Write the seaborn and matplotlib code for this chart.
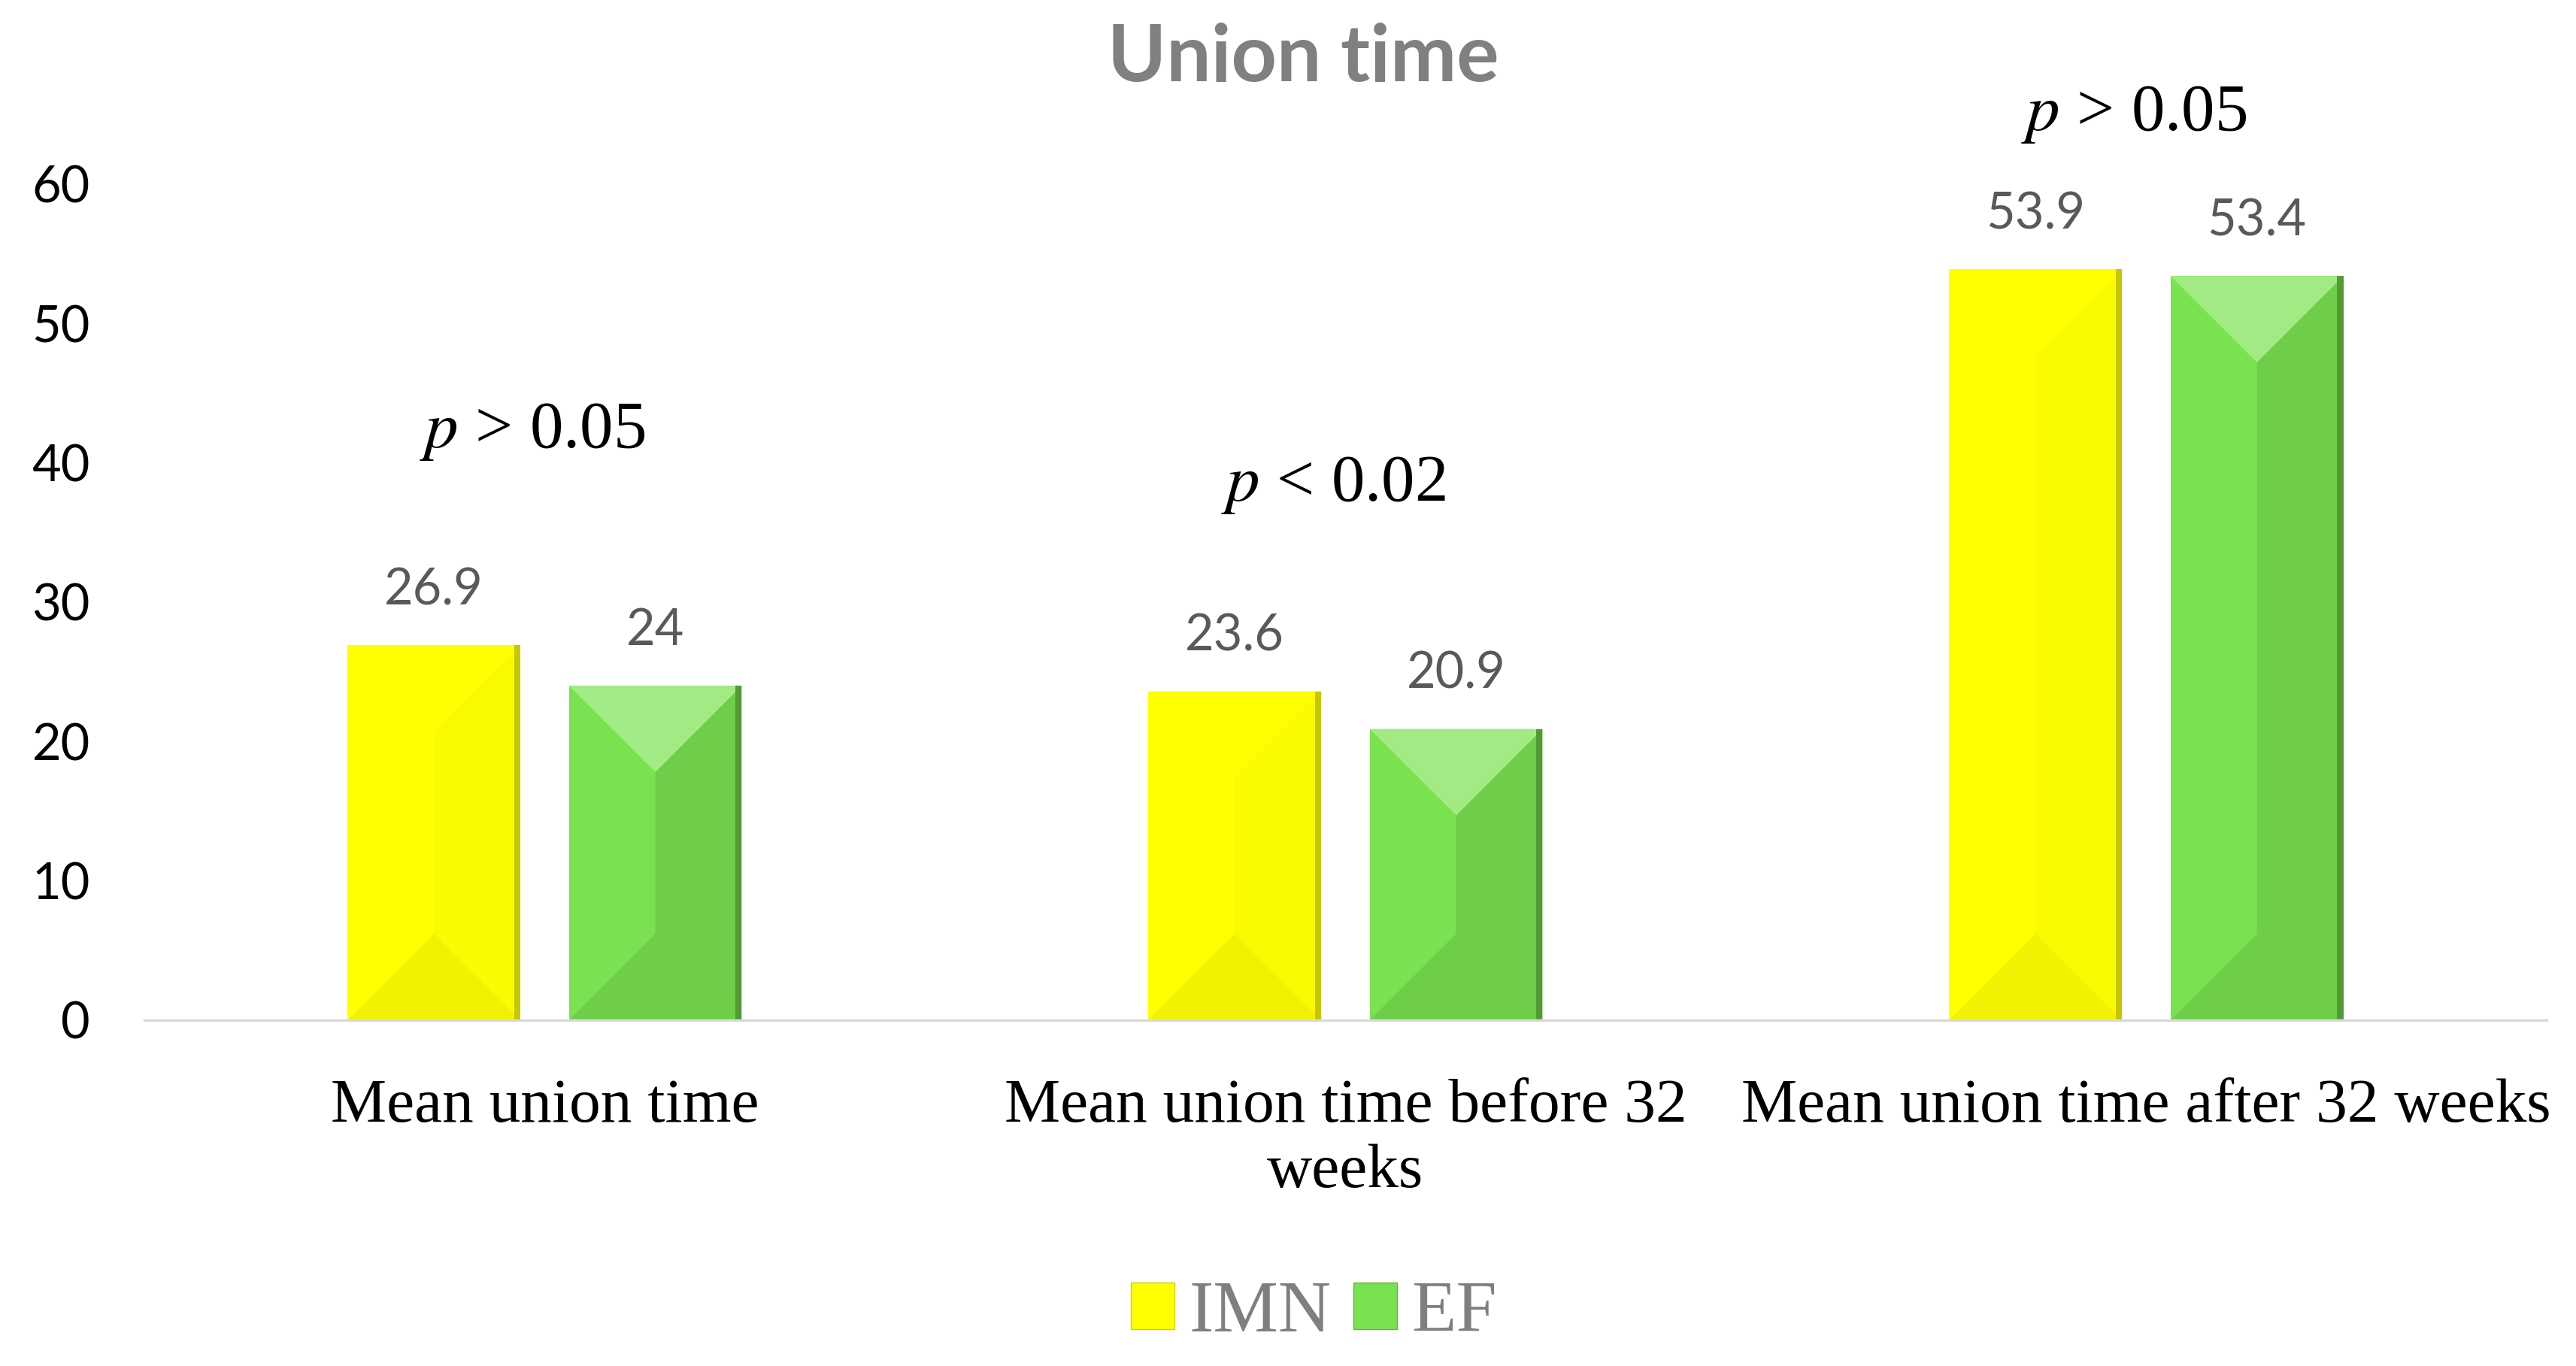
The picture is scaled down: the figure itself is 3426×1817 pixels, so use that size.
import matplotlib
matplotlib.use("Agg")
import matplotlib.pyplot as plt
import matplotlib.colors as mcolors
from matplotlib.patches import Patch, Polygon
import numpy as np
import pandas as pd
import seaborn as sns

# values
categories = ["Mean union time", "Mean union time before 32\nweeks", "Mean union time after 32 weeks"]
groups = ["IMN", "EF"]
imn_values = [26.9, 23.6, 53.9]
ef_values = [24.0, 20.9, 53.4]
p_labels = [r"$p$ > 0.05", r"$p$ < 0.02", r"$p$ > 0.05"]
p_heights = [42.2, 38.4, 65.0]
y_ticks = [0, 10, 20, 30, 40, 50, 60]

df = pd.DataFrame({
    "category": categories * 2,
    "group": [groups[0]] * len(categories) + [groups[1]] * len(categories),
    "value": imn_values + ef_values,
})

sns.set_theme(style="white")
plt.rcParams["mathtext.fontset"] = "stix"

colors = {"IMN": "#FFFF00", "EF": "#7AE250"}
# bevel shading: top mixes with white, the rest with black
bevel = {
    "IMN": dict(top=0.0, right=0.02, bottom=0.05, edge=0.22),
    "EF": dict(top=0.30, right=0.09, bottom=0.09, edge=0.32),
}

fig = plt.figure(figsize=(34.26, 18.17), dpi=100)
ax = fig.add_axes([0.056, 0.2532, 0.9326, 0.612])

sns.barplot(df, x="category", y="value", hue="group", hue_order=groups,
            order=categories, palette=colors, saturation=1, width=0.553, gap=0.22,
            linewidth=0, errorbar=None, legend=False, ax=ax)

ax.set_xlim(-0.5, 2.5)
ax.set_ylim(0, 60)
ax.set_yticks(y_ticks)
ax.set_xlabel("")
ax.set_ylabel("")
ax.spines[["top", "left", "right"]].set_visible(False)
ax.spines["bottom"].set_color("#D9D9D9")
ax.spines["bottom"].set_linewidth(2.5)
ax.tick_params(axis="both", length=0)
ax.tick_params(axis="y", pad=52, labelsize=48, labelcolor="black")
ax.tick_params(axis="x", pad=56, labelsize=60, labelcolor="black")
for t in ax.get_yticklabels():
    t.set_family("Lato")
for t in ax.get_xticklabels():
    t.set_family("Liberation Serif")


def mix(c, other, t):
    c = np.array(mcolors.to_rgb(c))
    o = np.array(mcolors.to_rgb(other))
    return tuple(c * (1 - t) + o * t)


to_px = ax.transData
to_data = ax.transData.inverted()
for name, container in zip(groups, ax.containers):
    base = colors[name]
    b = bevel[name]
    for bar in container:
        x0, y0 = bar.get_x(), bar.get_y()
        x1, y1 = x0 + bar.get_width(), y0 + bar.get_height()
        (px0, py0), (px1, py1) = to_px.transform([(x0, y0), (x1, y1)])
        half = (px1 - px0) / 2
        cx = (px0 + px1) / 2
        strip = (px1 - px0) * 0.035
        shapes = [
            ([(cx, py0 + half), (px1, py0), (px1, py1), (cx, py1 - half)], mix(base, "black", b["right"])),
            ([(px0, py1), (px1, py1), (cx, py1 - half)], mix(base, "white", b["top"])),
            ([(px0, py0), (px1, py0), (cx, py0 + half)], mix(base, "black", b["bottom"])),
            ([(px1 - strip, py0), (px1, py0), (px1, py1), (px1 - strip, py1)], mix(base, "black", b["edge"])),
        ]
        for pts, col in shapes:
            ax.add_patch(Polygon(to_data.transform(pts), closed=True,
                                 facecolor=col, edgecolor="none", zorder=bar.get_zorder() + 0.1))

    ax.bar_label(container, fmt="%g", padding=30, fontsize=48,
                 color="#595959", family="Lato")

for i, (lab, h) in enumerate(zip(p_labels, p_heights)):
    ax.text(i - 0.015, h, lab, ha="center", va="center", fontsize=64,
            family="Liberation Serif", color="black", clip_on=False)

fig.text(0.506, 0.957, "Union time", ha="center", va="center", fontsize=76,
         fontweight="bold", family="Lato", color="#808080")

handles = [Patch(facecolor=colors[g], edgecolor=mix(colors[g], "black", 0.2)) for g in groups]
fig.legend(handles, groups, loc="center", bbox_to_anchor=(0.51, 0.038), ncol=2,
           frameon=False, prop={"family": "Liberation Serif", "size": 70},
           labelcolor="#7F7F7F", handlelength=0.6, handleheight=0.6,
           handletextpad=0.2, columnspacing=0.3)

fig.savefig("out.png", dpi=100)
